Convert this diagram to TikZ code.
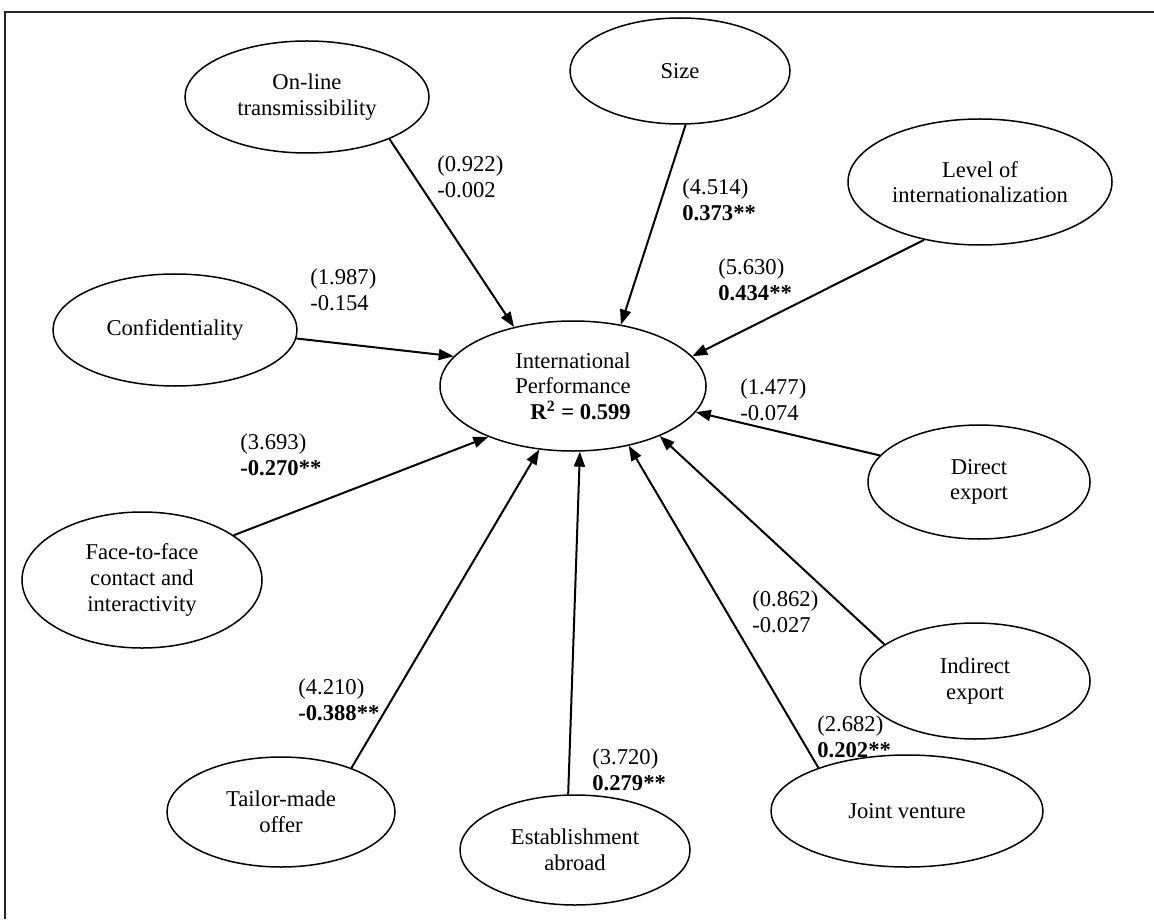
\documentclass[tikz,border=0pt]{standalone}
\usepackage{fontspec}
\setmainfont{Liberation Serif}
\usetikzlibrary{shapes.geometric,arrows.meta}
\begin{document}
\begin{tikzpicture}[x=0.5pt,y=-0.5pt,
  every node/.style={font=\fontsize{11.3}{12.8}\selectfont},
  var/.style={ellipse,draw,line width=0.75pt,inner sep=0pt,align=center},
  lab/.style={anchor=west,align=left,inner sep=0pt},
  path/.style={line width=1pt,-{Triangle[length=7.5pt,width=5.5pt]}}]
\useasboundingbox (0,0) rectangle (1154,919);
\draw[line width=1pt,black!85] (5,919) -- (5,12) -- (1154,12);
\node[var,minimum width=122pt,minimum height=56pt] (online) at (307,97) {On-line\\transmissibility};
\node[var,minimum width=110pt,minimum height=53pt] (size) at (680,71) {Size};
\node[var,minimum width=132pt,minimum height=63pt] (level) at (980,182) {Level of\\internationalization};
\node[var,minimum width=122pt,minimum height=56pt] (conf) at (175,330) {Confidentiality};
\node[var,minimum width=133pt,minimum height=65pt,align=right] (perf) at (573,386) {International\\Performance\\\textbf{R\textsuperscript{2} = 0.599}};
\node[var,minimum width=111pt,minimum height=57pt] (direct) at (979,482) {Direct\\export};
\node[var,minimum width=120pt,minimum height=68pt] (face) at (142,580) {Face-to-face\\contact and\\interactivity};
\node[var,minimum width=115pt,minimum height=58pt] (indirect) at (975,681) {Indirect\\export};
\node[var,minimum width=114pt,minimum height=55pt] (tailor) at (281,812) {Tailor-made\\offer};
\node[var,minimum width=115pt,minimum height=55pt] (estab) at (575,850) {Establishment\\abroad};
\node[var,minimum width=136pt,minimum height=56pt] (joint) at (907,811) {Joint venture};
\draw[path] (online.-27) -- (perf.135);
\draw[path] (size.-84) -- (perf.52);
\draw[path] (level.-134) -- (perf.14.5);
\draw[path] (conf.-4) -- (perf.166);
\draw[path] (direct.165) -- (perf.-12);
\draw[path] (face.26) -- (perf.-149);
\draw[path] (indirect.158) -- (perf.-30);
\draw[path] (tailor.32) -- (perf.-118);
\draw[path] (estab.97) -- (perf.-84);
\draw[path] (joint.154) -- (perf.-47.5);
\node[lab] (l1) at (437,177) {(0.922)\\-0.002};
\node[lab] (l2) at (682,200) {(4.514)\\\textbf{0.373**}};
\node[lab] (l3) at (718,280) {(5.630)\\\textbf{0.434**}};
\node[lab] (l4) at (310,290) {(1.987)\\-0.154};
\node[lab] (l5) at (740,400) {(1.477)\\-0.074};
\node[lab] (l6) at (752,612) {(0.862)\\-0.027};
\node[lab] (l7) at (240,455) {(3.693)\\\textbf{-0.270**}};
\node[lab] (l8) at (298,700) {(4.210)\\\textbf{-0.388**}};
\node[lab] (l9) at (592,770) {(3.720)\\\textbf{0.279**}};
\node[lab] (l10) at (817,737) {(2.682)\\\textbf{0.202**}};
\end{tikzpicture}
\end{document}
